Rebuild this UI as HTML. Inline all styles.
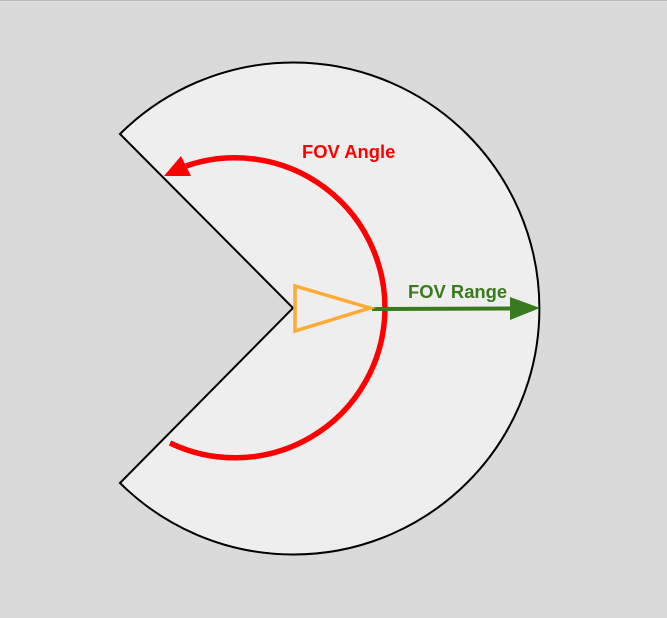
<!DOCTYPE html>
<html>
<head>
<meta charset="utf-8">
<style>
  html, body { margin: 0; padding: 0; background: #dadada; }
  svg { display: block; }
</style>
</head>
<body>
<svg width="667" height="618" viewBox="0 0 667 618" xmlns="http://www.w3.org/2000/svg">
  <rect x="0" y="0" width="667" height="618" fill="#dadada"/>
  <line x1="0" y1="0.5" x2="667" y2="0.5" stroke="#bbbbbb" stroke-width="1"/>
  <path d="M293 308 L120 134 A246 246 0 1 1 120 483 Z" fill="#eeeeee" stroke="#000" stroke-width="2" stroke-linejoin="miter"/>
  <path d="M170 443 A150 150 0 1 0 186 166" fill="none" stroke="#ff0000" stroke-width="5.5"/>
  <polygon points="164,176 191,176 181,156" fill="#ff0000"/>
  <text x="302" y="158" font-family="Liberation Sans, sans-serif" font-weight="bold" font-size="18.4" fill="#ff0000">FOV Angle</text>
  <line x1="372" y1="309" x2="512" y2="308.5" stroke="#3a7a1e" stroke-width="4"/>
  <polygon points="510,297 540,308 510,320" fill="#3a7a1e"/>
  <text x="408" y="298" font-family="Liberation Sans, sans-serif" font-weight="bold" font-size="18.4" fill="#3a7a1e">FOV Range</text>
  <polygon points="295,286 295,331 370,308" fill="none" stroke="#ffaa33" stroke-width="3.5" stroke-linejoin="miter"/>
</svg>
</body>
</html>
